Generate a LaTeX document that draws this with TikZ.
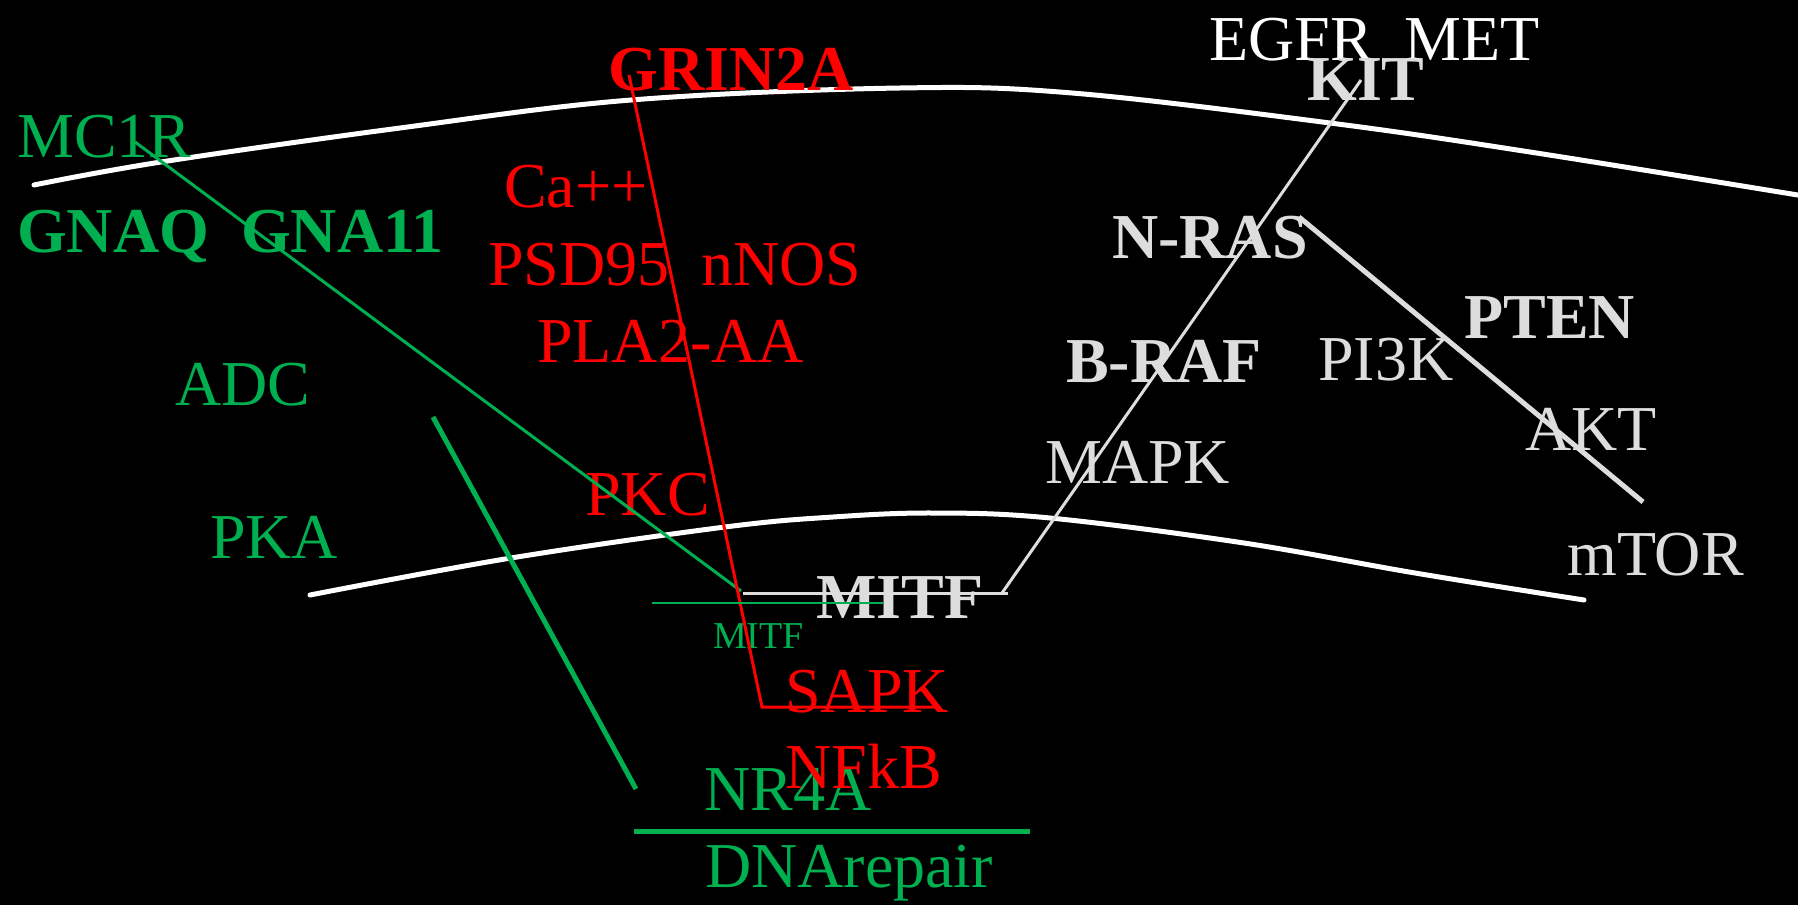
\documentclass[tikz,border=0pt]{standalone}
\usepackage{fontspec}
\setmainfont{Liberation Serif}
\definecolor{mgreen}{RGB}{0,176,80}
\definecolor{mred}{RGB}{255,0,0}
\definecolor{mgray}{RGB}{221,221,221}
\begin{document}
\begin{tikzpicture}[x=1pt,y=-1pt,
  lbl/.style={anchor=base west,inner sep=0pt,font=\fontsize{64}{64}\selectfont},
  bl/.style={anchor=base west,inner sep=0pt,font=\fontsize{64}{64}\selectfont\bfseries},
  sm/.style={anchor=base west,inner sep=0pt,font=\fontsize{38}{38}\selectfont},
  membrane/.style={white,line width=5pt,line cap=round},
  gline/.style={mgreen,line width=3pt},
  gthick/.style={mgreen,line width=5pt},
  rline/.style={mred,line width=3pt,line join=miter},
  wline/.style={mgray,line width=3pt},
  wthick/.style={mgray,line width=5pt}]
\useasboundingbox (0,0) rectangle (1798,905);
\fill[black] (0,0) rectangle (1798,905);
\begin{scope}
\clip (0,0) rectangle (1798,905);
% membranes
\draw[membrane] plot[smooth,tension=0.6] coordinates {(34,185) (161,162) (400,128) (631,100) (900,88) (1072,93) (1330,123) (1530,152) (1810,197)};
\draw[membrane] plot[smooth,tension=0.6] coordinates {(310,595) (511,558) (725,527) (833,517) (933,513) (1050,518) (1244,543) (1415,573) (1584,600)};
\end{scope}
% left (green) labels
\node[lbl,text=mgreen] (mc1r) at (17,157) {MC1R};
\node[bl,text=mgreen] (gnaq) at (17,252) {GNAQ\ \ GNA11};
\node[lbl,text=mgreen] (adc) at (175,405) {ADC};
\node[lbl,text=mgreen] (pka) at (210,558) {PKA};
\node[sm,text=mgreen] (mitfs) at (713,648) {MITF};
\node[lbl,text=mgreen] (nr4a) at (704,810) {NR4A};
\node[lbl,text=mgreen] (dna) at (705,887) {DNArepair};
% red labels
\node[bl,text=mred] (grin) at (608,90) {GRIN2A};
\node[lbl,text=mred] (ca) at (504,207) {Ca++};
\node[lbl,text=mred] (psd) at (488,285) {PSD95\ \ nNOS};
\node[lbl,text=mred] (pla) at (537,362) {PLA2-AA};
\node[lbl,text=mred] (pkc) at (585,515) {PKC};
\node[lbl,text=mred] (sapk) at (785,712) {SAPK};
\node[lbl,text=mred] (nfkb) at (785,788) {NFkB};
% gray / white labels
\node[lbl,text=white] (egfr) at (1209,60) {EGFR\ \ MET};
\node[bl,text=mgray] (kit) at (1307,100) {KIT};
\node[bl,text=mgray] (nras) at (1112,258) {N-RAS};
\node[bl,text=mgray] (pten) at (1464,338) {PTEN};
\node[bl,text=mgray] (braf) at (1066,382) {B-RAF};
\node[lbl,text=mgray] (pi3k) at (1318,380) {PI3K};
\node[lbl,text=mgray] (akt) at (1525,450) {AKT};
\node[lbl,text=mgray] (mapk) at (1045,483) {MAPK};
\node[lbl,text=mgray] (mtor) at (1567,575) {mTOR};
\node[bl,text=mgray] (mitf) at (816,618) {MITF};
% coordinates
\coordinate (g1) at (135,142);
\coordinate (g2) at (741,591);
\coordinate (a1) at (433,417);
\coordinate (a2) at (636,789);
\coordinate (h1) at (634,831);
\coordinate (h2) at (1030,831);
\coordinate (t1) at (652,603);
\coordinate (t2) at (883,603);
\coordinate (r1) at (629,75);
\coordinate (r2) at (762,707);
\coordinate (r3) at (935,707);
\coordinate (w1) at (743,593);
\coordinate (w2) at (1008,593);
\coordinate (w3) at (1002,593);
\coordinate (w4) at (1361,80);
\coordinate (n1) at (1299,217);
\coordinate (n2) at (1643,502);
% connectors
\draw[gline] (g1) -- (g2);
\draw[gthick] (a1) -- (a2);
\draw[gthick] (h1) -- (h2);
\draw[rline] (r1) -- (r2) -- (r3);
\draw[wline] (w1) -- (w2);
\draw[mgreen,line width=2pt] (t1) -- (t2);
\draw[wline] (w3) -- (w4);
\draw[wthick] (n1) -- (n2);
\end{tikzpicture}
\end{document}
